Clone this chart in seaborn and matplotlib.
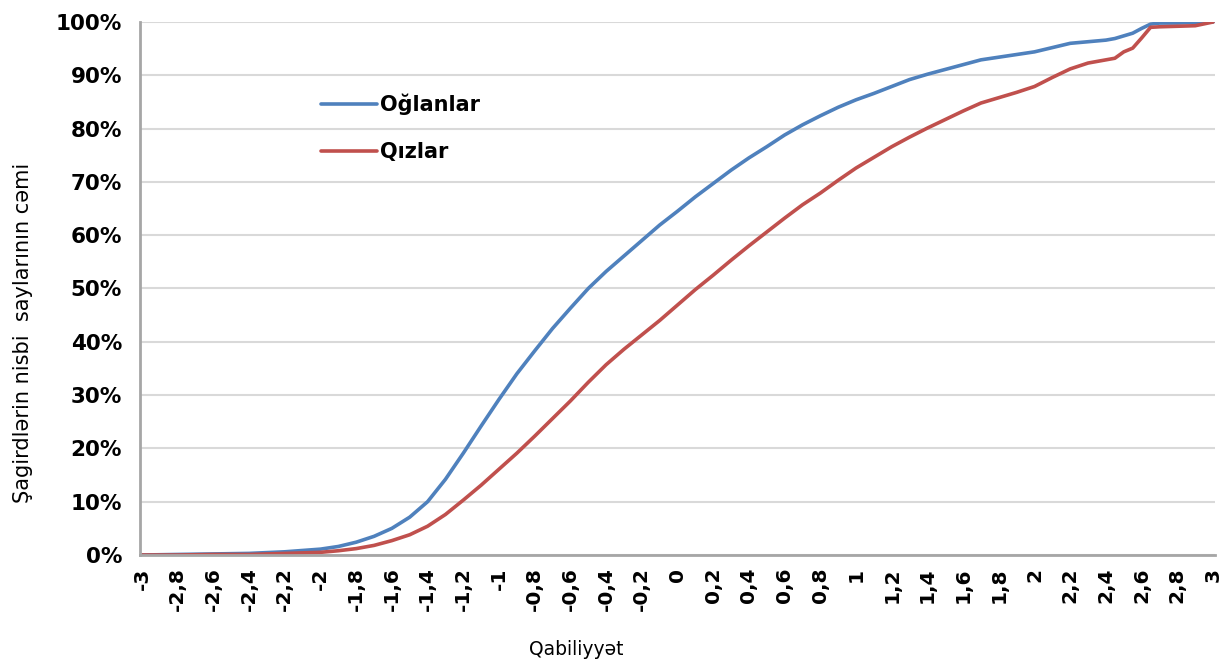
import numpy as np
import pandas as pd
import matplotlib
matplotlib.use("Agg")
import matplotlib.pyplot as plt
import seaborn as sns
from matplotlib.ticker import MultipleLocator, FuncFormatter, PercentFormatter

# Ability values (x) and cumulative share of pupils (%)
ability = [-3.0, -2.8, -2.6, -2.4, -2.2, -2.0, -1.9, -1.8, -1.7, -1.6, -1.5, -1.4,
           -1.3, -1.2, -1.1, -1.0, -0.9, -0.8, -0.7, -0.6, -0.5, -0.4, -0.3, -0.2,
           -0.1, 0.0, 0.1, 0.2, 0.3, 0.4, 0.5, 0.6, 0.7, 0.8, 0.9, 1.0, 1.1, 1.2,
           1.3, 1.4, 1.5, 1.6, 1.7, 1.8, 1.9, 2.0, 2.1, 2.2, 2.3, 2.4, 2.45, 2.5,
           2.55, 2.6, 2.65, 2.7, 2.8, 2.9, 3.0]

boys = [0.0, 0.1, 0.2, 0.3, 0.6, 1.1, 1.6, 2.4, 3.5, 5.0, 7.1, 10.0,
        14.2, 19.1, 24.2, 29.2, 34.0, 38.3, 42.5, 46.3, 50.0, 53.2, 56.1, 59.0,
        61.9, 64.5, 67.2, 69.7, 72.2, 74.5, 76.6, 78.8, 80.7, 82.4, 84.0, 85.4, 86.6, 87.9,
        89.2, 90.2, 91.1, 92.0, 92.9, 93.4, 93.9, 94.4, 95.2, 96.0, 96.3, 96.6, 96.9, 97.4,
        97.9, 98.8, 99.6, 99.8, 99.8, 99.9, 100.0]

girls = [0.0, 0.0, 0.1, 0.1, 0.3, 0.5, 0.8, 1.2, 1.8, 2.7, 3.8, 5.4,
         7.6, 10.3, 13.1, 16.1, 19.1, 22.3, 25.6, 28.9, 32.4, 35.7, 38.6, 41.3,
         44.0, 46.9, 49.8, 52.5, 55.3, 58.0, 60.6, 63.2, 65.7, 67.9, 70.3, 72.6, 74.6, 76.6,
         78.4, 80.1, 81.7, 83.3, 84.8, 85.8, 86.8, 87.9, 89.6, 91.2, 92.3, 92.9, 93.2, 94.4,
         95.1, 97.0, 99.0, 99.1, 99.2, 99.3, 100.0]

series_names = ["Oğlanlar", "Qızlar"]
series_colors = ["#4F81BD", "#C0504D"]

df = pd.DataFrame({"x": ability, "Oğlanlar": boys, "Qızlar": girls})
df_long = df.melt(id_vars="x", var_name="group", value_name="pct")
df_long["pct"] = df_long["pct"] / 100.0

sns.set_style("white")
plt.rcParams['font.family'] = ['DejaVu Sans']
plt.rcParams['text.color'] = 'black'

fig = plt.figure(figsize=(12.3, 6.66), dpi=100)
ax = fig.add_axes([140 / 1230, 1 - 555 / 666, 1075 / 1230, 533 / 666])

sns.lineplot(data=df_long, x="x", y="pct", hue="group", hue_order=series_names,
             palette=series_colors, linewidth=2.6, sort=False, ax=ax, legend=True,
             solid_joinstyle="round", solid_capstyle="round")

ax.set_xlim(-3.011, 3.011)
ax.set_ylim(0, 1.0)

# axes styling
gray = "#A6A6A6"
for s in ["top", "right"]:
    ax.spines[s].set_visible(False)
for s in ["left", "bottom"]:
    ax.spines[s].set_color(gray)
    ax.spines[s].set_linewidth(2)
ax.yaxis.grid(True, color="#D9D9D9", linewidth=1.5)
ax.xaxis.grid(False)
ax.set_axisbelow(True)

ax.yaxis.set_major_locator(MultipleLocator(0.1))
ax.yaxis.set_major_formatter(PercentFormatter(1.0, decimals=0))
ax.xaxis.set_major_locator(MultipleLocator(0.2))
ax.xaxis.set_minor_locator(MultipleLocator(0.05))
ax.xaxis.set_major_formatter(FuncFormatter(
    lambda v, p: f"{round(v, 1) + 0:g}".replace(".", ",")))

ax.tick_params(axis="y", which="major", direction="out", length=5, width=1.5,
               color=gray, pad=8, labelsize=15.5, labelcolor="black")
ax.tick_params(axis="x", which="both", direction="out", length=5, width=1.2,
               color=gray)
ax.tick_params(axis="x", which="major", pad=4, labelsize=14.5, labelrotation=90,
               labelcolor="black")
for lbl in ax.get_yticklabels() + ax.get_xticklabels():
    lbl.set_fontweight("bold")

ax.set_xlabel("Qabiliyyət", fontsize=13.5, color="black")
ax.set_ylabel("Şagirdlərin nisbi  saylarının cəmi", fontsize=15, color="black")
ax.xaxis.set_label_coords((576 - 140) / 1075, (555 - 640) / 533)
ax.yaxis.set_label_coords((33 - 140) / 1075, (555 - 333) / 533)

leg = ax.legend(loc="upper left", bbox_to_anchor=(0.168, 0.866), frameon=False,
                handlelength=2.7, handletextpad=0.15, labelspacing=1.3,
                borderpad=0, borderaxespad=0, prop={"weight": "bold", "size": 15})
for h in leg.get_lines():
    h.set_linewidth(2.6)
for t in leg.get_texts():
    t.set_color("black")

fig.savefig("out.png", dpi=100)
